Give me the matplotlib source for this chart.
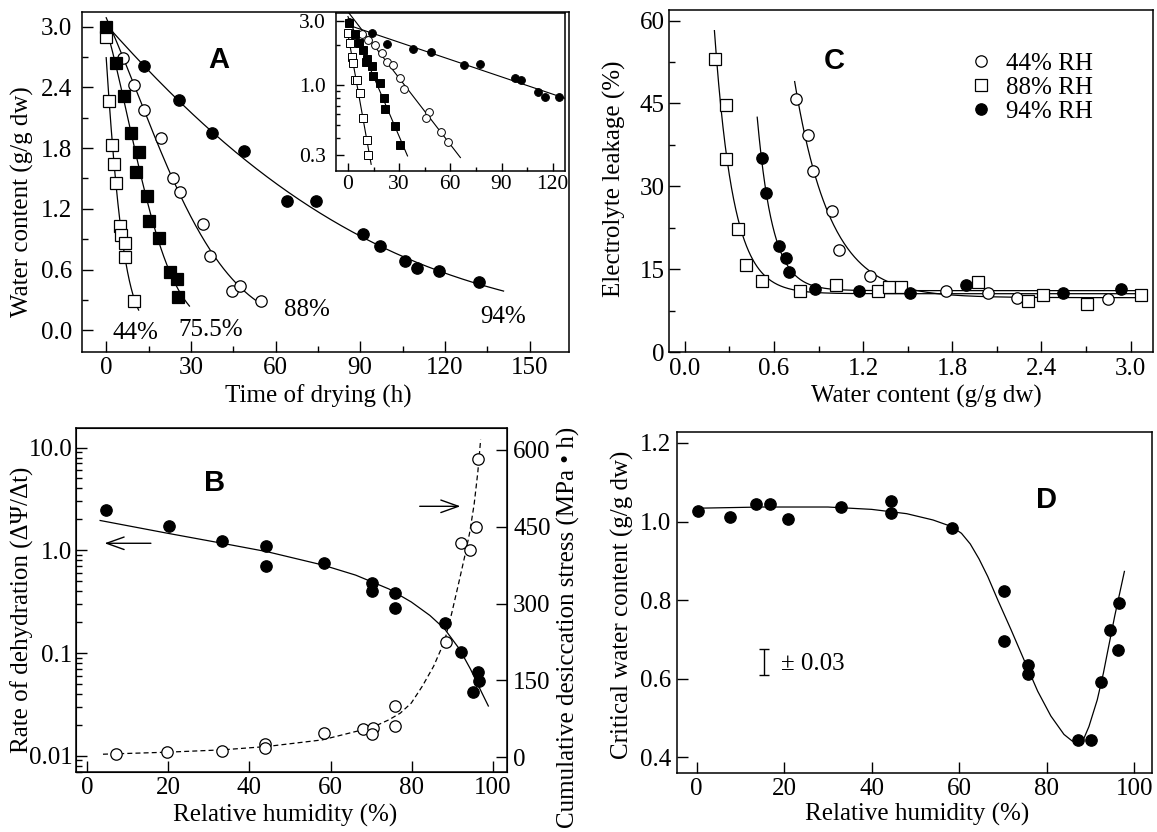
import numpy as np
import matplotlib
matplotlib.use('Agg')
import matplotlib.pyplot as plt
from matplotlib.ticker import MultipleLocator, LogLocator, NullFormatter

plt.rcParams['font.family'] = ['Liberation Serif', 'DejaVu Serif']
plt.rcParams['font.size'] = 18

# ---------------- Panel A : water content vs drying time ----------------
a44_t = [0, 0.9, 2.0, 2.6, 3.3, 5.0, 5.3, 6.7, 6.5, 10.0]
a44_w = [2.90, 2.27, 1.83, 1.64, 1.46, 1.03, 0.94, 0.86, 0.725, 0.29]
a755_t = [0, 3.3, 6.2, 8.8, 11.8, 10.6, 14.3, 15.3, 18.8, 22.6, 25.1, 25.6]
a755_w = [3.0, 2.64, 2.31, 1.95, 1.76, 1.56, 1.33, 1.08, 0.91, 0.58, 0.51, 0.33]
a88_t = [0, 5.9, 10.0, 13.5, 19.4, 23.5, 26.1, 34.3, 36.7, 44.5, 47.4, 55.0]
a88_w = [2.97, 2.69, 2.42, 2.18, 1.90, 1.50, 1.37, 1.05, 0.735, 0.39, 0.44, 0.29]
a94_t = [0, 13.5, 25.8, 37.4, 48.9, 64.0, 74.3, 90.9, 96.9, 106.0, 110.2, 118.1, 132.0]
a94_w = [2.98, 2.61, 2.28, 1.95, 1.77, 1.28, 1.28, 0.95, 0.83, 0.68, 0.62, 0.59, 0.48]
a_curve_end = [11.5, 29.5, 55.5, 140.8]
a_labels = ['44%', '75.5%', '88%', '94%']
a_label_x = [10.2, 37.1, 71.3, 140.8]
a_label_y = [-0.03, 0.0, 0.20, 0.13]

# inset (log scale)
i44_t = [0, 1.0, 2.2, 2.9, 3.9, 5.2, 7.0, 9.1, 11.1, 12.0]
i44_w = [2.46, 2.05, 1.63, 1.46, 1.08, 1.08, 0.877, 0.566, 0.385, 0.298]
i755_t = [0.4, 4.3, 6.2, 9.1, 10.3, 11.0, 14.0, 14.9, 18.8, 20.9, 21.9, 27.7, 30.4]
i755_w = [2.93, 2.40, 2.05, 1.83, 1.50, 1.57, 1.39, 1.16, 1.04, 0.796, 0.66, 0.489, 0.357]
i88_t = [8.4, 12.0, 16.1, 19.8, 22.9, 26.2, 30.6, 32.8, 47.5, 45.6, 54.3, 58.5]
i88_w = [2.40, 2.17, 1.99, 1.75, 1.50, 1.42, 1.12, 0.927, 0.623, 0.566, 0.444, 0.374]
i94_t = [0.4, 14.0, 22.7, 38.4, 48.5, 68.3, 77.2, 97.9, 101.7, 111.5, 115.7, 123.7]
i94_w = [2.97, 2.46, 2.02, 1.85, 1.78, 1.41, 1.44, 1.13, 1.08, 0.89, 0.817, 0.817]
i_curve_end = [13.6, 34.9, 65.9, 127.0]

# ---------------- Panel B : rate of dehydration / cumulative stress ----------------
b_rate_rh = [4.7, 20.1, 33.2, 44.1, 44.1, 58.3, 70.3, 70.3, 76.0, 75.8, 88.1, 92.2, 96.3, 96.5, 95.1]
b_rate = [2.49, 1.71, 1.24, 1.09, 0.70, 0.76, 0.485, 0.40, 0.385, 0.274, 0.197, 0.1016, 0.066, 0.054, 0.042]
b_rate_line_rh = [3.2, 19.6, 33.3, 44.3, 58.0, 66.2, 74.4, 79.9, 84.5, 88.1, 91.8, 94.5, 97.3, 98.9]
b_rate_line = [1.95, 1.47, 1.17, 0.97, 0.72, 0.573, 0.42, 0.314, 0.232, 0.172, 0.109, 0.0697, 0.041, 0.0305]
b_stress_rh = [7.1, 19.8, 33.2, 43.8, 43.8, 58.3, 68.0, 70.5, 70.3, 75.8, 76.0, 88.4, 92.2, 94.5, 95.9, 96.3]
b_stress = [5.9, 11.1, 13.0, 26.1, 17.6, 47.0, 54.8, 56.8, 45.0, 60.0, 100.5, 224.4, 418.8, 403.8, 450.1, 581.9]
b_stress_line_rh = [3.9, 19.6, 33.3, 44.3, 58.0, 66.2, 69.9, 74.4, 77.2, 79.9, 82.6, 85.4, 88.1,
                    89.9, 91.8, 93.1, 94.3, 95.4, 96.3, 97.0]
b_stress_line = [5.9, 9.8, 14.4, 20.9, 33.9, 50.2, 56.8, 73.1, 86.1, 105.7, 138.3, 177.4, 226.4,
                 281.9, 347.1, 392.8, 438.4, 493.8, 555.8, 619.7]

# ---------------- Panel C : electrolyte leakage ----------------
c44_x = [0.751, 0.831, 0.860, 0.992, 1.036, 1.247, 1.755, 2.041, 2.237, 2.849]
c44_y = [45.8, 39.3, 32.8, 25.5, 18.5, 13.8, 11.1, 10.8, 9.8, 9.6]
c88_x = [0.206, 0.275, 0.278, 0.355, 0.414, 0.521, 0.774, 1.017, 1.297, 1.371, 1.458,
         1.971, 2.311, 2.410, 2.708, 3.067]
c88_y = [53.0, 44.8, 34.9, 22.3, 15.7, 12.9, 11.1, 12.1, 11.1, 11.8, 11.8, 12.8, 9.2, 10.3, 8.7, 10.4]
c94_x = [0.516, 0.545, 0.632, 0.682, 0.702, 0.875, 1.170, 1.517, 1.892, 2.542, 2.933]
c94_y = [35.2, 28.8, 19.3, 17.0, 14.5, 11.5, 11.1, 10.7, 12.1, 10.7, 11.5]
c_curve_start = [0.739, 0.199, 0.487]
c_curve_end = 3.07
c_legend = ['44% RH', '88% RH', '94% RH']

# ---------------- Panel D : critical water content ----------------
d_rh = [0.4, 7.6, 13.5, 16.8, 20.9, 33.1, 44.3, 44.4, 58.3, 70.1, 70.1, 75.8, 75.8,
        87.1, 90.1, 92.4, 94.3, 96.2, 96.4]
d_cwc = [1.028, 1.011, 1.044, 1.044, 1.007, 1.036, 1.053, 1.021, 0.983, 0.823, 0.695,
         0.636, 0.613, 0.444, 0.444, 0.591, 0.723, 0.674, 0.793]
d_line_rh = [0.4, 15.0, 30.0, 40.0, 48.0, 54.0, 58.3, 60.5, 62.5, 64.5, 66.5, 68.8, 71.8,
             74.5, 77.9, 80.9, 83.9, 85.8, 87.3, 88.3, 89.6, 91.5, 92.9, 93.8, 95.5, 97.7]
d_line_cwc = [1.034, 1.037, 1.037, 1.031, 1.020, 1.004, 0.987, 0.970, 0.943, 0.905, 0.860,
              0.800, 0.725, 0.655, 0.568, 0.505, 0.458, 0.441, 0.437, 0.444, 0.478, 0.546,
              0.614, 0.665, 0.760, 0.873]
d_err_x, d_err_y, d_err_half = 15.4, 0.642, 0.033
d_err_text = '± 0.03'

# ----------------------------------------------------------------------
W, H = 1157, 832
fig = plt.figure(figsize=(W / 100, H / 100), dpi=100)


def px_axes(l, t, r, b):
    return fig.add_axes([l / W, 1 - b / H, (r - l) / W, (b - t) / H])


def style(ax, pad_x=3.5, pad_y=5, size=18):
    ax.tick_params(which='both', direction='in', top=False, right=False, labelsize=size)
    ax.tick_params(which='major', length=8, width=1)
    ax.tick_params(which='minor', length=4, width=1)
    ax.tick_params(axis='x', which='both', pad=pad_x)
    ax.tick_params(axis='y', which='both', pad=pad_y)
    for s in ax.spines.values():
        s.set_linewidth(1.1)


LW = 0.9
MS = 8.2
open_kw = dict(linestyle='none', mfc='white', mec='black', mew=0.9, ms=MS)
fill_kw = dict(linestyle='none', mfc='black', mec='black', mew=0.9, ms=MS)
bold = dict(family=['Liberation Sans', 'DejaVu Sans'], fontweight='bold', fontsize=21)

# ================= Panel A =================
axA = px_axes(82.2, 11.7, 569.3, 352.3)
style(axA, pad_x=3.2, pad_y=7)
axA.set_xlim(-8.5, 164.1)
axA.set_ylim(-0.218, 3.148)
axA.xaxis.set_major_locator(MultipleLocator(30))
axA.xaxis.set_minor_locator(MultipleLocator(15))
axA.yaxis.set_major_locator(MultipleLocator(0.6))
axA.yaxis.set_minor_locator(MultipleLocator(0.3))
axA.yaxis.set_major_formatter(plt.FuncFormatter(lambda v, p: f'{v:.1f}'))

a_series = [(a44_t, a44_w, 's', open_kw), (a755_t, a755_w, 's', fill_kw),
            (a88_t, a88_w, 'o', open_kw), (a94_t, a94_w, 'o', fill_kw)]
for (t, w, mk, kw), end in zip(a_series, a_curve_end):
    coef = np.polyfit(t, np.log(w), 2)
    tt = np.linspace(0, end, 300)
    axA.plot(tt, np.exp(np.polyval(coef, tt)), color='black', lw=LW, zorder=2)
for (t, w, mk, kw), z in zip(a_series, [5, 6, 3, 4]):
    axA.plot(t, w, marker=mk, zorder=z, **kw)
for lab, x, y in zip(a_labels, a_label_x, a_label_y):
    axA.text(x, y, lab, ha='center', va='center', fontsize=18)
axA.text(39.8, 2.67, 'A', ha='center', va='center', **bold)
axA.set_xlabel('Time of drying (h)', va='center')
axA.set_ylabel('Water content (g/g dw)', va='center')
axA.xaxis.set_label_coords(0.485, -0.130)
axA.yaxis.set_label_coords(-0.123, 0.441)

# inset
axI = px_axes(335.5, 13.0, 565.0, 170.7)
style(axI, pad_x=3.0, pad_y=7, size=15.5)
axI.tick_params(which='major', length=6)
axI.tick_params(which='minor', length=3)
axI.set_yscale('log')
axI.set_xlim(-7.3, 127.2)
axI.set_ylim(0.227, 3.47)
axI.set_yticks([0.3, 1.0, 3.0])
axI.set_yticklabels(['0.3', '1.0', '3.0'])
axI.yaxis.set_minor_locator(LogLocator(base=10, subs=np.arange(2, 10)))
axI.yaxis.set_minor_formatter(NullFormatter())
axI.xaxis.set_major_locator(MultipleLocator(30))
axI.xaxis.set_minor_locator(MultipleLocator(15))
i_series = [(i44_t, i44_w, 's', open_kw), (i755_t, i755_w, 's', fill_kw),
            (i88_t, i88_w, 'o', open_kw), (i94_t, i94_w, 'o', fill_kw)]
for (t, w, mk, kw), end in zip(i_series, i_curve_end):
    coef = np.polyfit(t, np.log(w), 1)
    tt = np.linspace(0, end, 100)
    axI.plot(tt, np.exp(np.polyval(coef, tt)), color='black', lw=LW * 0.9, zorder=2)
for (t, w, mk, kw), z in zip(i_series, [5, 6, 3, 4]):
    k2 = dict(kw)
    k2['ms'] = 5.6
    k2['mew'] = 0.7
    axI.plot(t, w, marker=mk, zorder=z, **k2)

# ================= Panel B =================
axB = px_axes(76.0, 428.0, 507.0, 772.3)
style(axB, pad_x=3.2, pad_y=2.5)
axB.set_yscale('log')
axB.set_xlim(-2.75, 103.5)
axB.set_ylim(0.0069, 15.5)
axB.set_yticks([0.01, 0.1, 1.0, 10.0])
axB.set_yticklabels(['0.01', '0.1', '1.0', '10.0'])
axB.yaxis.set_minor_locator(LogLocator(base=10, subs=np.arange(2, 10)))
axB.yaxis.set_minor_formatter(NullFormatter())
axB.xaxis.set_major_locator(MultipleLocator(20))
axB.plot(b_rate_line_rh, b_rate_line, color='black', lw=LW, zorder=2)
axB.plot(b_rate_rh, b_rate, marker='o', zorder=3, **fill_kw)
axB.annotate('', xy=(3.6, 1.17), xytext=(16.4, 1.17),
             arrowprops=dict(arrowstyle='->,head_length=0.7,head_width=0.25', lw=1.0,
                             color='black', mutation_scale=18))
axB.annotate('', xy=(92.7, 2.68), xytext=(81.3, 2.68),
             arrowprops=dict(arrowstyle='->,head_length=0.7,head_width=0.25', lw=1.0,
                             color='black', mutation_scale=18))
axB.text(31.5, 4.54, 'B', ha='center', va='center', **bold)
axB.set_xlabel('Relative humidity (%)', va='center')
axB.set_ylabel('Rate of dehydration (ΔΨ/Δt)', va='center')
axB.xaxis.set_label_coords(0.485, -0.124)
axB.yaxis.set_label_coords(-0.125, 0.471)

axB2 = axB.twinx()
axB2.set_ylim(-29.4, 642.5)
axB2.yaxis.set_major_locator(MultipleLocator(150))
axB2.tick_params(axis='y', which='major', direction='in', length=8, width=1, labelsize=18, pad=4.5)
axB2.tick_params(axis='y', which='minor', right=False)
axB2.plot(b_stress_line_rh, b_stress_line, color='black', lw=LW, ls=(0, (4, 2.5)), zorder=2)
axB2.plot(b_stress_rh, b_stress, marker='o', zorder=3, **open_kw)
axB2.set_ylabel('Cumulative desiccation stress (MPa • h)', rotation=90, va='center')
axB2.yaxis.set_label_coords(1.143, 0.422)

# ================= Panel C =================
axC = px_axes(669.4, 10.0, 1152.7, 352.3)
style(axC, pad_x=4.3, pad_y=3.6)
axC.set_xlim(-0.104, 3.149)
axC.set_ylim(0, 61.9)
axC.xaxis.set_major_locator(MultipleLocator(0.6))
axC.xaxis.set_minor_locator(MultipleLocator(0.3))
axC.yaxis.set_major_locator(MultipleLocator(15))
axC.yaxis.set_minor_locator(MultipleLocator(7.5))
axC.xaxis.set_major_formatter(plt.FuncFormatter(lambda v, p: f'{v:.1f}'))


def fit_plateau(x, y):
    x = np.asarray(x, float)
    y = np.asarray(y, float)
    x0 = x.min()
    best = None
    for k in np.linspace(0.5, 60, 2400):
        A = np.column_stack([np.ones_like(x), np.exp(-k * (x - x0))])
        coef = np.linalg.lstsq(A, y, rcond=None)[0]
        r = np.sum((A @ coef - y) ** 2)
        if best is None or r < best[0]:
            best = (r, k, coef)
    _, k, (a, b) = best
    return lambda xx: a + b * np.exp(-k * (np.asarray(xx) - x0))


c_series = [(c44_x, c44_y, 'o', open_kw), (c88_x, c88_y, 's', open_kw), (c94_x, c94_y, 'o', fill_kw)]
handles = []
for (x, y, mk, kw), x_start in zip(c_series, c_curve_start):
    f = fit_plateau(x, y)
    xx = np.linspace(x_start, c_curve_end, 400)
    axC.plot(xx, f(xx), color='black', lw=LW, zorder=2)
for x, y, mk, kw in c_series:
    h, = axC.plot(x, y, marker=mk, zorder=3, **kw)
    handles.append(h)
axC.legend(handles, c_legend, loc='upper left', bbox_to_anchor=(0.618, 0.877), frameon=False,
           handlelength=1.0, handletextpad=0.5, labelspacing=0.07, borderpad=0,
           borderaxespad=0, fontsize=18, numpoints=1)
axC.text(1.004, 52.6, 'C', ha='center', va='center', **bold)
axC.set_xlabel('Water content (g/g dw)', va='center')
axC.set_ylabel('Electrolyte leakage (%)', va='center')
axC.xaxis.set_label_coords(0.531, -0.130)
axC.yaxis.set_label_coords(-0.113, 0.506)

# ================= Panel D =================
axD = px_axes(676.8, 432.0, 1152.0, 773.3)
style(axD, pad_x=3.3, pad_y=4.3)
axD.set_xlim(-4.5, 104.0)
axD.set_ylim(0.359, 1.228)
axD.xaxis.set_major_locator(MultipleLocator(20))
axD.yaxis.set_major_locator(MultipleLocator(0.2))
axD.yaxis.set_major_formatter(plt.FuncFormatter(lambda v, p: f'{v:.1f}'))
axD.plot(d_line_rh, d_line_cwc, color='black', lw=LW, zorder=2)
axD.plot(d_rh, d_cwc, marker='o', zorder=3, **fill_kw)
axD.errorbar([d_err_x], [d_err_y], yerr=[d_err_half], fmt='none', ecolor='black',
             elinewidth=1.0, capsize=3.5, capthick=1.0)
axD.text(d_err_x + 3.8, d_err_y - 0.004, d_err_text, ha='left', va='center', fontsize=18)
axD.text(79.8, 1.055, 'D', ha='center', va='center', **bold)
axD.set_xlabel('Relative humidity (%)', va='center')
axD.set_ylabel('Critical water content (g/g dw)', va='center')
axD.xaxis.set_label_coords(0.506, -0.122)
axD.yaxis.set_label_coords(-0.115, 0.493)

fig.savefig('out.png', dpi=100, facecolor='white')
